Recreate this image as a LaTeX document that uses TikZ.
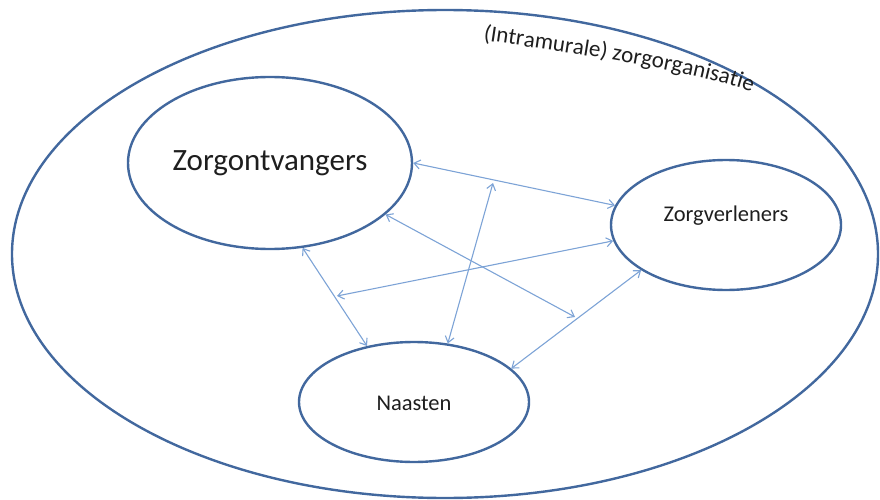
\documentclass[tikz,border=0pt]{standalone}
\usepackage{fontspec}
\setmainfont{Carlito}
\usetikzlibrary{shapes.geometric,arrows.meta,decorations.text}
\definecolor{ellblue}{RGB}{66,104,158}
\definecolor{arrblue}{RGB}{125,163,214}
\definecolor{txtgray}{RGB}{30,30,30}
\tikzset{
  ell/.style={draw=ellblue, line width=2.4pt, ellipse, inner sep=0pt},
  lbl/.style={text=txtgray, inner sep=0pt},
  link/.style={draw=arrblue, line width=1.1pt, {Straight Barb[length=6pt,width=9pt]}-{Straight Barb[length=6pt,width=9pt]}}
}
\begin{document}
\begin{tikzpicture}[x=1pt,y=-1pt]
\useasboundingbox (0,0) rectangle (880,500);
\node[ell, minimum width=866pt, minimum height=488pt] (org) at (445,254) {};
\node[ell, minimum width=284pt, minimum height=172pt] (zo) at (270,163) {};
\node[ell, minimum width=230pt, minimum height=130pt] (zv) at (726,225) {};
\node[ell, minimum width=230pt, minimum height=120pt] (na) at (414,402) {};
\node[lbl, font=\fontsize{31}{36}\selectfont] (zot) at (270,163) {Zorgontvangers};
\node[lbl, font=\fontsize{22.5}{26}\selectfont] (zvt) at (726,216) {Zorgverleners};
\node[lbl, font=\fontsize{22.5}{26}\selectfont] (nat) at (414,403) {Naasten};
\coordinate (c2) at (493,183);
\coordinate (c3) at (575,317);
\coordinate (c4) at (337,296);
\draw[link] (zo.0) -- (zv.170);
\draw[link] (na.60) -- (c2);
\draw[link] (zo.-24.7) -- (c3);
\draw[link] (zv.188) -- (c4);
\draw[link] (zo.-69) -- (na.130.7);
\draw[link] (na.19) -- (zv.208.1);
\path[decorate, decoration={text along path, text color=txtgray,
  text={|\fontsize{23}{27}\selectfont|(Intramurale) zorgorganisatie}}]
  (483,40) .. controls (560,52) and (690,68) .. (770,98);
\end{tikzpicture}
\end{document}
